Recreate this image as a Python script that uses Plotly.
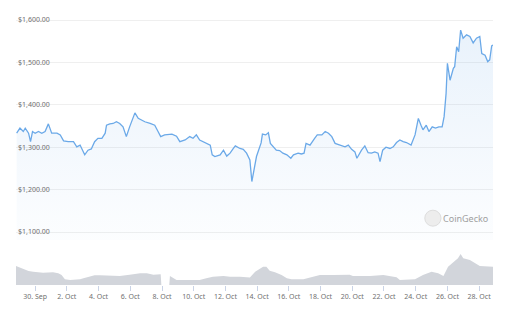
import plotly.graph_objects as go

price_times = [
    "2022-09-28 20:00", "2022-09-29 01:00", "2022-09-29 06:00", "2022-09-29 09:00", "2022-09-29 14:00",
    "2022-09-29 17:00", "2022-09-29 20:00", "2022-09-30 00:00", "2022-09-30 05:00", "2022-09-30 10:00",
    "2022-09-30 15:00", "2022-09-30 20:00", "2022-10-01 01:00", "2022-10-01 09:00", "2022-10-01 14:00",
    "2022-10-01 19:00", "2022-10-02 02:00", "2022-10-02 10:00", "2022-10-02 15:00", "2022-10-02 20:00",
    "2022-10-03 03:00", "2022-10-03 08:00", "2022-10-03 13:00", "2022-10-03 18:00", "2022-10-03 23:00",
    "2022-10-04 05:00", "2022-10-04 10:00", "2022-10-04 12:00", "2022-10-04 17:00", "2022-10-04 22:00",
    "2022-10-05 03:00", "2022-10-05 08:00", "2022-10-05 13:00", "2022-10-05 18:00", "2022-10-05 23:00",
    "2022-10-06 04:00", "2022-10-06 07:00", "2022-10-06 12:00", "2022-10-06 22:00", "2022-10-07 06:00",
    "2022-10-07 13:00", "2022-10-07 18:00", "2022-10-07 22:00", "2022-10-08 04:00", "2022-10-08 15:00",
    "2022-10-08 22:00", "2022-10-09 03:00", "2022-10-09 11:00", "2022-10-09 18:00", "2022-10-09 23:00",
    "2022-10-10 04:00", "2022-10-10 09:00", "2022-10-10 14:00", "2022-10-10 20:00", "2022-10-11 01:00",
    "2022-10-11 04:00", "2022-10-11 08:00", "2022-10-11 16:00", "2022-10-11 21:00", "2022-10-12 02:00",
    "2022-10-12 07:00", "2022-10-12 12:00", "2022-10-12 15:00", "2022-10-12 22:00", "2022-10-13 03:00",
    "2022-10-13 08:00", "2022-10-13 13:00", "2022-10-13 16:00", "2022-10-13 19:00", "2022-10-13 23:00",
    "2022-10-14 06:00", "2022-10-14 08:00", "2022-10-14 13:00", "2022-10-14 17:00", "2022-10-14 20:00",
    "2022-10-15 00:00", "2022-10-15 05:00", "2022-10-15 10:00", "2022-10-15 15:00", "2022-10-15 21:00",
    "2022-10-16 03:00", "2022-10-16 07:00", "2022-10-16 14:00", "2022-10-16 19:00", "2022-10-16 23:00",
    "2022-10-17 02:00", "2022-10-17 08:00", "2022-10-17 15:00", "2022-10-17 19:00", "2022-10-18 02:00",
    "2022-10-18 07:00", "2022-10-18 12:00", "2022-10-18 17:00", "2022-10-18 22:00", "2022-10-19 05:00",
    "2022-10-19 13:00", "2022-10-19 18:00", "2022-10-19 23:00", "2022-10-20 04:00", "2022-10-20 07:00",
    "2022-10-20 14:00", "2022-10-20 19:00", "2022-10-21 00:00", "2022-10-21 05:00", "2022-10-21 10:00",
    "2022-10-21 15:00", "2022-10-21 18:00", "2022-10-21 22:00", "2022-10-22 03:00", "2022-10-22 09:00",
    "2022-10-22 14:00", "2022-10-22 19:00", "2022-10-23 00:00", "2022-10-23 05:00", "2022-10-23 10:00",
    "2022-10-23 17:00", "2022-10-23 23:00", "2022-10-24 04:00", "2022-10-24 08:00", "2022-10-24 11:00",
    "2022-10-24 16:00", "2022-10-24 20:00", "2022-10-25 01:00", "2022-10-25 06:00", "2022-10-25 11:00",
    "2022-10-25 16:00", "2022-10-25 19:00", "2022-10-25 22:00", "2022-10-26 00:00", "2022-10-26 04:00",
    "2022-10-26 09:00", "2022-10-26 11:00", "2022-10-26 14:00", "2022-10-26 17:00", "2022-10-26 20:00",
    "2022-10-26 23:45", "2022-10-27 05:00", "2022-10-27 10:00", "2022-10-27 15:00", "2022-10-27 20:00",
    "2022-10-28 01:00", "2022-10-28 04:00", "2022-10-28 09:00", "2022-10-28 13:00", "2022-10-28 16:00",
    "2022-10-28 19:00", "2022-10-28 21:00",
]
price_values = [
    1333, 1345, 1337, 1345, 1333, 1313, 1337, 1333, 1337, 1333,
    1337, 1355, 1333, 1333, 1329, 1315, 1313, 1313, 1301, 1305,
    1282, 1293, 1296, 1313, 1321, 1321, 1333, 1352, 1355, 1356,
    1360, 1356, 1348, 1325, 1348, 1368, 1381, 1368, 1360, 1356,
    1352, 1337, 1325, 1329, 1331, 1326, 1313, 1317, 1325, 1321,
    1329, 1317, 1313, 1309, 1305, 1282, 1278, 1282, 1293, 1279,
    1286, 1297, 1303, 1297, 1295, 1286, 1270, 1219, 1246, 1278,
    1310, 1331, 1329, 1334, 1309, 1301, 1293, 1292, 1286, 1282,
    1274, 1282, 1286, 1284, 1286, 1309, 1305, 1321, 1329, 1329,
    1337, 1333, 1325, 1309, 1305, 1301, 1305, 1295, 1289, 1274,
    1293, 1303, 1287, 1286, 1289, 1286, 1266, 1293, 1300, 1297,
    1301, 1311, 1317, 1313, 1311, 1305, 1329, 1368, 1352, 1341,
    1352, 1337, 1348, 1345, 1348, 1348, 1372, 1427, 1498, 1458,
    1486, 1490, 1537, 1525, 1576, 1557, 1565, 1561, 1546, 1557,
    1561, 1521, 1517, 1502, 1506, 1539, 1541,
]

volume_times = [
    "2022-09-28 19:00", "2022-09-29 04:00", "2022-09-29 14:00", "2022-09-29 21:00", "2022-09-30 12:00",
    "2022-10-01 03:00", "2022-10-01 11:00", "2022-10-01 16:00", "2022-10-01 21:00", "2022-10-02 05:00",
    "2022-10-02 20:00", "2022-10-03 01:00", "2022-10-03 08:00", "2022-10-03 18:00", "2022-10-04 02:00",
    "2022-10-04 17:00", "2022-10-05 08:00", "2022-10-05 23:00", "2022-10-06 15:00", "2022-10-07 01:00",
    "2022-10-07 11:00", "2022-10-07 22:00", "2022-10-07 23:00", "2022-10-08 11:00", "2022-10-08 12:00",
    "2022-10-08 22:00", "2022-10-09 13:00", "2022-10-10 09:00", "2022-10-10 19:00", "2022-10-11 05:00",
    "2022-10-11 21:00", "2022-10-12 07:00", "2022-10-12 22:00", "2022-10-13 13:00", "2022-10-13 21:00",
    "2022-10-14 04:00", "2022-10-14 09:00", "2022-10-14 14:00", "2022-10-14 19:00", "2022-10-15 03:00",
    "2022-10-15 13:00", "2022-10-15 21:00", "2022-10-16 04:00", "2022-10-16 22:00", "2022-10-17 08:00",
    "2022-10-17 23:00", "2022-10-18 19:00", "2022-10-19 20:00", "2022-10-20 01:00", "2022-10-21 03:00",
    "2022-10-21 23:00", "2022-10-22 19:00", "2022-10-23 00:00", "2022-10-23 23:00", "2022-10-24 11:00",
    "2022-10-25 00:00", "2022-10-25 10:00", "2022-10-25 18:00", "2022-10-26 01:00", "2022-10-26 09:00",
    "2022-10-26 16:00", "2022-10-26 20:00", "2022-10-27 00:00", "2022-10-27 10:00", "2022-10-27 18:00",
    "2022-10-28 01:00", "2022-10-28 21:00",
]
volume_values = [
    19.0, 16.7, 14.0, 13.3, 12.3, 12.7, 11.7, 10.0, 5.7, 5.0,
    5.7, 6.7, 7.7, 9.7, 9.7, 9.3, 9.0, 10.3, 11.7, 11.7,
    10.3, 10.7, 0.0, 0.0, 9.0, 5.0, 4.7, 5.0, 6.7, 8.3,
    9.0, 8.3, 8.3, 7.5, 13.3, 16.7, 18.3, 18.3, 14.3, 12.7,
    10.0, 6.7, 5.7, 5.7, 7.7, 10.0, 10.0, 10.3, 9.0, 9.0,
    10.0, 7.7, 5.0, 5.7, 10.0, 13.3, 11.7, 9.0, 18.3, 22.3,
    26.7, 31.0, 26.7, 25.0, 21.7, 19.0, 18.3,
]

tick_dates = [
    "2022-09-30", "2022-10-02", "2022-10-04", "2022-10-06", "2022-10-08",
    "2022-10-10", "2022-10-12", "2022-10-14", "2022-10-16", "2022-10-18",
    "2022-10-20", "2022-10-22", "2022-10-24", "2022-10-26", "2022-10-28",
]
tick_labels = [
    "30. Sep", "2. Oct", "4. Oct", "6. Oct", "8. Oct",
    "10. Oct", "12. Oct", "14. Oct", "16. Oct", "18. Oct",
    "20. Oct", "22. Oct", "24. Oct", "26. Oct", "28. Oct",
]
price_ticks = [1100, 1200, 1300, 1400, 1500, 1600]
price_tick_labels = ["$1,100.00", "$1,200.00", "$1,300.00", "$1,400.00", "$1,500.00", "$1,600.00"]

FONT = "Noto Sans"
TXT = "#707070"
PRICE_RANGE = [1081.1, 1623.6]
PRICE_DOMAIN = [0.1636, 1]

fig = go.Figure()
fig.add_trace(go.Scatter(
    x=volume_times, y=volume_values, yaxis="y2", mode="lines",
    line=dict(width=0, color="#d2d5db"), fill="tozeroy", fillcolor="#d2d5db",
    hoverinfo="skip", showlegend=False,
))
fig.add_trace(go.Scatter(
    x=price_times, y=price_values, mode="lines",
    line=dict(width=1.3, color="#6ba9e8"),
    fill="tozeroy",
    fillgradient=dict(type="vertical", start=1080, stop=1580,
                      colorscale=[[0, "rgba(107,169,232,0.02)"], [1, "rgba(107,169,232,0.15)"]]),
    showlegend=False,
))
# carrier for the grid/label axis that mirrors the price scale
fig.add_trace(go.Scatter(x=[price_times[0]], y=[price_values[0]], yaxis="y3",
                         mode="markers", marker=dict(opacity=0), hoverinfo="skip", showlegend=False))

fig.update_layout(
    width=512, height=312,
    margin=dict(l=16, r=19, t=10, b=27),
    paper_bgcolor="white", plot_bgcolor="white",
    font=dict(family=FONT, size=7, color=TXT),
    xaxis=dict(
        type="date", range=["2022-09-28 19:00", "2022-10-28 21:00"],
        anchor="y2",
        tickmode="array", tickvals=tick_dates, ticktext=tick_labels,
        showgrid=False, zeroline=False, showline=False,
        ticks="outside", ticklen=5, tickcolor="#c9d3e6",
        tickfont=dict(family=FONT, size=7, color=TXT),
    ),
    yaxis=dict(
        domain=PRICE_DOMAIN, range=PRICE_RANGE,
        showticklabels=False, ticks="", showgrid=False,
        zeroline=False, showline=False,
    ),
    yaxis2=dict(
        domain=[0, 0.1164], range=[0, 32],
        showticklabels=False, showgrid=False, zeroline=False, ticks="",
    ),
    yaxis3=dict(
        overlaying="y", anchor="free", position=0.073, side="left",
        range=PRICE_RANGE,
        tickmode="array", tickvals=price_ticks, ticktext=price_tick_labels,
        ticks="", showgrid=True, gridcolor="#efefef", gridwidth=1,
        zeroline=False, showline=False, ticklabelstandoff=1,
        tickfont=dict(family=FONT, size=7, color=TXT),
    ),
    annotations=[dict(
        xref="paper", yref="paper", x=0.994, y=0.243, xanchor="right", yanchor="middle",
        text="CoinGecko", showarrow=False,
        font=dict(family=FONT, size=9, color="#a0a0a0"),
    )],
    shapes=[dict(
        type="circle", xref="paper", yref="paper",
        x0=0.857, x1=0.891, y0=0.214, y1=0.272,
        fillcolor="#ededed", line=dict(color="#dddddd", width=1),
    )],
)

fig.write_html("out.html")
